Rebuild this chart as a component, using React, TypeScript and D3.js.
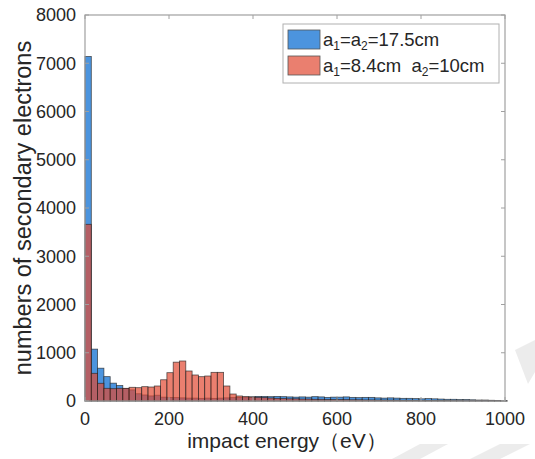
import { useEffect, useRef } from "react";
import * as d3 from "d3";

// histogram bin width in eV
const binWidth = 15;

// counts per bin (bins start at 0 eV)
const countsEqual = [
  7140, 1075, 680, 505, 370, 320, 260, 230, 150, 125, 105, 120, 80, 75, 70,
  65, 60, 60, 55, 60, 55, 60, 65, 70, 75, 80, 85, 95, 95, 90, 95, 90, 85, 80,
  85, 80, 90, 85, 75, 80, 80, 85, 75, 70, 75, 75, 65, 60, 65, 60, 55, 55, 50,
  45, 50, 45, 40, 35, 35, 30, 30, 25, 20, 20, 15, 10, 5,
];
const countsUnequal = [
  3662, 574, 367, 263, 255, 263, 263, 284, 276, 297, 290, 311, 440, 587, 805,
  829, 622, 539, 504, 518, 594, 594, 311, 145, 104, 90, 83, 76, 70, 62, 55, 50,
  45, 45, 40, 40, 35, 35, 30, 30, 30, 28, 25, 25, 22, 22, 20, 20, 18, 18, 15,
  15, 15, 12, 12, 10, 10, 10, 8, 8, 6, 6, 5, 5, 4, 3, 2,
];

const xTicks = [0, 200, 400, 600, 800, 1000];
const yTicks = [0, 1000, 2000, 3000, 4000, 5000, 6000, 7000, 8000];
const legendLabels = [
  ["a", "1", "=a", "2", "=17.5cm"],
  ["a", "1", "=8.4cm  a", "2", "=10cm"],
];

const blueFill = "rgb(76,148,222)";
const redFill = "rgb(225,72,50)";
const font = "'Liberation Sans', Arial, sans-serif";

const App = () => {
  const canvas = useRef(null);

  useEffect(() => {
    d3.select(canvas.current).selectAll("*").remove();

    const width = 535;
    const height = 459;
    const margin = { top: 15, right: 30, bottom: 58, left: 85 };

    const svg = d3
      .select(canvas.current)
      .append("svg")
      .attr("width", width)
      .attr("height", height)
      .style("position", "absolute")
      .style("left", 0)
      .style("top", 0)
      .style("background", "white");

    // faint page decoration at the bottom right
    svg
      .append("g")
      .attr("fill", "#ececec")
      .selectAll("path")
      .data([
        "M515,350 L535,340 L535,372 L528,384 Z",
        "M392,459 L420,444 L448,444 L420,459 Z",
        "M470,459 L500,444 L530,444 L500,459 Z",
      ])
      .join("path")
      .attr("d", (d) => d);

    const x = d3
      .scaleLinear()
      .domain([0, 1000])
      .range([margin.left, width - margin.right]);
    const y = d3
      .scaleLinear()
      .domain([0, 8000])
      .range([height - margin.bottom, margin.top]);

    const bars = (data, fill, opacity) =>
      svg
        .append("g")
        .selectAll("rect")
        .data(data)
        .join("rect")
        .attr("x", (d, i) => x(i * binWidth))
        .attr("y", (d) => y(d))
        .attr("width", (d, i) => x((i + 1) * binWidth) - x(i * binWidth))
        .attr("height", (d) => y(0) - y(d))
        .attr("fill", fill)
        .attr("fill-opacity", opacity)
        .attr("stroke", "#222")
        .attr("stroke-opacity", 0.75)
        .attr("stroke-width", 0.8);

    bars(countsEqual, blueFill, 1);
    bars(countsUnequal, redFill, 0.7);

    // axes box
    const axisColor = "#a0a0a0";
    svg
      .append("rect")
      .attr("x", x(0))
      .attr("y", y(8000))
      .attr("width", x(1000) - x(0))
      .attr("height", y(0) - y(8000))
      .attr("fill", "none")
      .attr("stroke", axisColor)
      .attr("stroke-width", 1.2);

    // ticks (inward, mirrored on the box)
    const tickLen = 4;
    const tickG = svg.append("g").attr("stroke", axisColor);
    xTicks.forEach((t) => {
      tickG
        .append("line")
        .attr("x1", x(t))
        .attr("x2", x(t))
        .attr("y1", y(0))
        .attr("y2", y(0) - tickLen);
      tickG
        .append("line")
        .attr("x1", x(t))
        .attr("x2", x(t))
        .attr("y1", y(8000))
        .attr("y2", y(8000) + tickLen);
    });
    yTicks.forEach((t) => {
      tickG
        .append("line")
        .attr("x1", x(0))
        .attr("x2", x(0) + tickLen)
        .attr("y1", y(t))
        .attr("y2", y(t));
      tickG
        .append("line")
        .attr("x1", x(1000))
        .attr("x2", x(1000) - tickLen)
        .attr("y1", y(t))
        .attr("y2", y(t));
    });

    // tick labels
    svg
      .append("g")
      .attr("font-family", font)
      .attr("font-size", 18)
      .attr("fill", "#262626")
      .attr("text-anchor", "middle")
      .selectAll("text")
      .data(xTicks)
      .join("text")
      .attr("x", (d) => x(d))
      .attr("y", y(0) + 24)
      .text((d) => d);

    svg
      .append("g")
      .attr("font-family", font)
      .attr("font-size", 18)
      .attr("fill", "#262626")
      .attr("text-anchor", "end")
      .selectAll("text")
      .data(yTicks)
      .join("text")
      .attr("x", x(0) - 9)
      .attr("y", (d) => y(d))
      .attr("dy", "0.35em")
      .text((d) => d);

    // axis titles
    svg
      .append("text")
      .attr("font-family", font)
      .attr("font-size", 21)
      .attr("fill", "#262626")
      .attr("text-anchor", "middle")
      .attr("x", (x(0) + x(1000)) / 2 - 8)
      .attr("y", height - 11)
      .text("impact energy（eV）");

    svg
      .append("text")
      .attr("font-family", font)
      .attr("font-size", 23.5)
      .attr("fill", "#262626")
      .attr("text-anchor", "middle")
      .attr(
        "transform",
        `translate(31, ${(y(0) + y(8000)) / 2}) rotate(-90)`
      )
      .text("numbers of secondary electrons");

    // legend
    const lg = svg.append("g").attr("transform", "translate(283, 24)");
    lg.append("rect")
      .attr("width", 216)
      .attr("height", 59)
      .attr("fill", "white")
      .attr("stroke", "#b0b0b0");
    [blueFill, redFill].forEach((c, i) => {
      lg.append("rect")
        .attr("x", 5)
        .attr("y", 6 + i * 26)
        .attr("width", 32)
        .attr("height", 19)
        .attr("fill", c)
        .attr("fill-opacity", i === 0 ? 1 : 0.7)
        .attr("stroke", "#555")
        .attr("stroke-width", 0.8);
      const t = lg
        .append("text")
        .attr("font-family", font)
        .attr("font-size", 18.5)
        .attr("fill", "#262626")
        .style("white-space", "pre")
        .attr("x", 40)
        .attr("y", 22 + i * 26);
      legendLabels[i].forEach((part, j) => {
        const s = t.append("tspan").text(part);
        if (j % 2 === 1) s.attr("font-size", 12).attr("dy", 4);
        else if (j > 0) s.attr("dy", -4);
      });
    });
  }, []);

  return <div className="canvas-container" ref={canvas}></div>;
};

export default App;
